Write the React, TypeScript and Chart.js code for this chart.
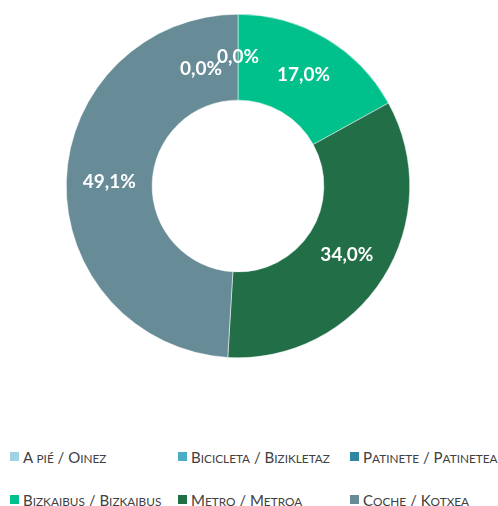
import React, { useEffect, useRef } from "react";
import { Chart, registerables } from "chart.js";

Chart.register(...registerables);

const categories = [
  "A pié / Oinez",
  "Bicicleta / Bizikletaz",
  "Patinete / Patinetea",
  "Bizkaibus / Bizkaibus",
  "Metro / Metroa",
  "Coche / Kotxea",
];
const values: (number | null)[] = [0.0, 0.0, null, 17.0, 34.0, 49.1];
const colors = ["#9dd3e3", "#4bacc6", "#2e86a0", "#00c08b", "#216e47", "#678c98"];

const labelPlugin = {
  id: "sliceLabels",
  afterDatasetsDraw(chart: any) {
    const ctx = chart.ctx;
    const meta = chart.getDatasetMeta(0);
    const data = chart.data.datasets[0].data as (number | null)[];
    ctx.save();
    ctx.font = "bold 19px Lato";
    ctx.fillStyle = "#ffffff";
    ctx.textAlign = "center";
    ctx.textBaseline = "middle";
    const placed: { x1: number; x2: number; y1: number; y2: number }[] = [];
    for (let i = meta.data.length - 1; i >= 0; i--) {
      const v = data[i];
      if (v === null || v === undefined) continue;
      const arc: any = meta.data[i];
      const mid = (arc.startAngle + arc.endAngle) / 2;
      const r = (arc.innerRadius + arc.outerRadius) / 2;
      let x = arc.x + Math.cos(mid) * r;
      let y = arc.y + Math.sin(mid) * r;
      const text = v.toFixed(1).replace(".", ",") + "%";
      const w = ctx.measureText(text).width;
      const h = 19;
      const hit = placed.some(
        (p) => x - w / 2 < p.x2 && x + w / 2 > p.x1 && y - h / 2 < p.y2 && y + h / 2 > p.y1
      );
      if (hit) {
        x -= w * 0.88;
        y += h * 0.6;
      }
      placed.push({ x1: x - w / 2, x2: x + w / 2, y1: y - h / 2, y2: y + h / 2 });
      ctx.fillText(text, x, y);
    }
    ctx.restore();
  },
};

function SmallCaps({ text }: { text: string }) {
  const parts: { t: string; small: boolean }[] = [];
  for (const ch of text) {
    const small = ch !== ch.toUpperCase();
    const last = parts[parts.length - 1];
    if (last && last.small === small) last.t += ch;
    else parts.push({ t: ch, small });
  }
  return (
    <span>
      {parts.map((p, k) => (
        <span key={k} style={{ fontSize: p.small ? 11.8 : 15 }}>
          {p.t.toUpperCase()}
        </span>
      ))}
    </span>
  );
}

export default function App() {
  const ref = useRef<HTMLCanvasElement>(null);
  useEffect(() => {
    document.body.style.margin = "0";
    const chart = new Chart(ref.current!, {
      type: "doughnut",
      data: {
        labels: categories,
        datasets: [
          {
            data: values as any,
            backgroundColor: colors,
            borderColor: "#ffffff",
            borderWidth: 0.5,
          },
        ],
      },
      options: {
        animation: false,
        responsive: false,
        cutout: "50%",
        layout: { padding: { left: 66, top: 14, right: 88, bottom: 42 } },
        plugins: {
          legend: { display: false },
          tooltip: { enabled: false },
        },
      },
      plugins: [labelPlugin],
    });
    return () => chart.destroy();
  }, []);

  const cols = [10, 178, 350];
  const rows = [456, 499];
  return (
    <div style={{ position: "relative", width: 498, height: 506, background: "#fff" }}>
      <canvas ref={ref} width={498} height={400} style={{ position: "absolute", left: 0, top: 0 }} />
      {categories.map((c, i) => (
        <div
          key={c}
          style={{
            position: "absolute",
            left: cols[i % 3],
            top: rows[Math.floor(i / 3)] - 10,
            height: 20,
            display: "flex",
            alignItems: "center",
            fontFamily: "Lato",
            color: "#404040",
            whiteSpace: "nowrap",
          }}
        >
          <span style={{ display: "inline-block", width: 9, height: 9, background: colors[i], marginRight: 4, flex: "none" }} />
          <SmallCaps text={c} />
        </div>
      ))}
    </div>
  );
}
